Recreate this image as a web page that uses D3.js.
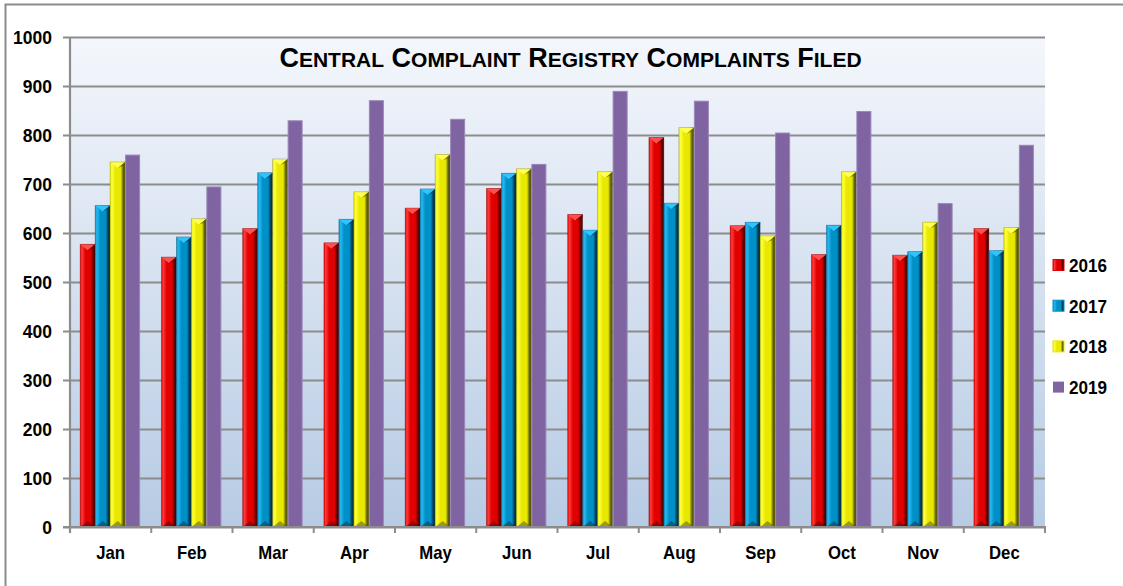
<!DOCTYPE html>
<html><head><meta charset="utf-8">
<script src="https://cdn.jsdelivr.net/npm/d3@7"></script>
<style>
html,body{margin:0;padding:0;background:#fff;}
svg{display:block;}
text{font-family:"Liberation Sans",Arial,sans-serif;font-weight:bold;fill:#000;}
</style></head>
<body>
<svg id="chart" width="1123" height="586"></svg>
<script>
const months = ["Jan","Feb","Mar","Apr","May","Jun","Jul","Aug","Sep","Oct","Nov","Dec"];
const years = ["2016","2017","2018","2019"];
const v2016 = [577,551,609,580,651,691,638,795,615,556,555,609];
const v2017 = [656,592,723,628,690,722,606,661,622,616,562,564];
const v2018 = [745,629,751,684,760,731,725,815,594,725,622,611];
const v2019 = [759,694,829,870,832,740,889,869,804,848,660,779];
const yTicks = [0,100,200,300,400,500,600,700,800,900,1000];
const seriesValues = [v2016,v2017,v2018,v2019];
const colors = {
  "2016": {base:"#e00000", light:"#ff3b3b", dark:"#5a0000", cap:"#ff5050"},
  "2017": {base:"#0090c8", light:"#28b8ef", dark:"#00384f", cap:"#30c4ff"},
  "2018": {base:"#e8e800", light:"#ffff40", dark:"#5c5c00", cap:"#ffff55"},
  "2019": {base:"#8064a2"}
};

const svg = d3.select("#chart");
const m = {left:70, right:1045, top:37, bottom:527};

function condense(sel, ratio){
  sel.each(function(){
    const L = this.getComputedTextLength();
    d3.select(this).attr("textLength", L*ratio).attr("lengthAdjust","spacingAndGlyphs");
  });
}

const defs = svg.append("defs");
const bg = defs.append("linearGradient").attr("id","bg").attr("x1",0).attr("y1",0).attr("x2",0).attr("y2",1);
bg.append("stop").attr("offset","0%").attr("stop-color","#f4f7fc");
bg.append("stop").attr("offset","100%").attr("stop-color","#b7cbe4");

years.slice(0,3).forEach(y => {
  const c = colors[y];
  const g = defs.append("linearGradient").attr("id","g"+y).attr("x1",0).attr("y1",0).attr("x2",1).attr("y2",0);
  g.append("stop").attr("offset","0%").attr("stop-color",c.base);
  g.append("stop").attr("offset","12%").attr("stop-color",c.light);
  g.append("stop").attr("offset","35%").attr("stop-color",c.base);
  g.append("stop").attr("offset","70%").attr("stop-color",c.base);
  g.append("stop").attr("offset","88%").attr("stop-color",c.dark);
  g.append("stop").attr("offset","100%").attr("stop-color",c.dark);
});

// outer border
svg.append("rect").attr("x",5.5).attr("y",4.5).attr("width",1200).attr("height",700)
  .attr("fill","none").attr("stroke","#8c8c8c").attr("stroke-width",2);

const x0 = d3.scaleBand().domain(months).range([m.left, m.right]).padding(0);
const bw = x0.bandwidth();
const groupW = 60;
const x1 = d3.scaleBand().domain(years).range([(bw-groupW)/2 - 0.5, (bw+groupW)/2 - 0.5]).padding(0);
const y = d3.scaleLinear().domain([0,1000]).range([m.bottom, m.top]);

// plot background
svg.append("rect").attr("x",m.left).attr("y",m.top).attr("width",m.right-m.left).attr("height",m.bottom-m.top)
  .attr("fill","url(#bg)");

// gridlines + y axis
const yAxis = d3.axisLeft(y).tickValues(yTicks).tickSize(-(m.right-m.left)).tickFormat(d3.format("d")).tickPadding(18);
const ya = svg.append("g").attr("transform",`translate(${m.left},0)`).call(yAxis);
ya.select(".domain").remove();
ya.selectAll(".tick line").attr("stroke","#8c8c8c").attr("stroke-width",2.2).attr("x1",-7);
ya.selectAll(".tick text").attr("font-size",19).attr("font-family","'Liberation Sans',Arial,sans-serif").attr("font-weight","bold").attr("fill","#000");
condense(ya.selectAll(".tick text"), 0.92);

// title (small caps built from tspans)
const title = svg.append("text").attr("x",570.5).attr("y",67).attr("text-anchor","middle");
const words = ["Central","Complaint","Registry","Complaints","Filed"];
words.forEach((w,i) => {
  title.append("tspan").attr("font-size",27).text((i?" ":"") + w[0].toUpperCase());
  title.append("tspan").attr("font-size",21).text(w.slice(1).toUpperCase());
});

// bars
const data = months.map((mo,i) => ({month:mo, vals: years.map((yr,j)=>({year:yr, value:seriesValues[j][i]}))}));
const groups = svg.append("g").selectAll("g").data(data).join("g")
  .attr("transform", d => `translate(${x0(d.month)},0)`);
const bwid = x1.bandwidth();
groups.each(function(d){
  const g = d3.select(this);
  d.vals.forEach(v => {
    const bx = x1(v.year), by = y(v.value), bh = y(0) - y(v.value);
    if (v.year === "2019") {
      g.append("rect").attr("x",bx+0.5).attr("y",by).attr("width",bwid-1).attr("height",bh)
        .attr("fill",colors["2019"].base).attr("stroke","#9a86b8").attr("stroke-width",1);
    } else {
      const c = colors[v.year];
      g.append("rect").attr("x",bx).attr("y",by).attr("width",bwid).attr("height",bh)
        .attr("fill",`url(#g${v.year})`);
      const cx = bx + bwid/2;
      g.append("path").attr("d",`M${bx},${by}L${bx+bwid},${by}L${cx},${by+6}Z`).attr("fill",c.cap);
      g.append("path").attr("d",`M${cx},${by+6}L${bx+bwid},${by}L${bx+bwid},${by+3}Z`).attr("fill",c.dark).attr("opacity",0.6);
      const bb = y(0);
      g.append("path").attr("d",`M${bx},${bb}L${cx},${bb-6}L${bx+bwid},${bb}Z`).attr("fill",c.dark).attr("opacity",0.55);
      g.append("rect").attr("x",bx).attr("y",by).attr("width",bwid).attr("height",bh)
        .attr("fill","none").attr("stroke",c.dark).attr("stroke-opacity",0.35).attr("stroke-width",0.8);
    }
  });
});

// x axis
const xAxis = d3.axisBottom(x0).tickSize(0).tickPadding(18.5);
const xa = svg.append("g").attr("transform",`translate(0,${m.bottom})`).call(xAxis);
xa.select(".domain").remove();
xa.selectAll(".tick text").attr("font-size",19).attr("font-family","'Liberation Sans',Arial,sans-serif").attr("font-weight","bold").attr("fill","#000");
condense(xa.selectAll(".tick text"), 0.88);
const bounds = months.map(mo => x0(mo)).concat([m.right]);
svg.append("g").selectAll("line").data(bounds).join("line")
  .attr("x1",d=>d).attr("x2",d=>d).attr("y1",m.bottom).attr("y2",m.bottom+6)
  .attr("stroke","#8c8c8c").attr("stroke-width",2);
svg.append("line").attr("x1",m.left-7).attr("x2",m.right+1).attr("y1",m.bottom).attr("y2",m.bottom)
  .attr("stroke","#8c8c8c").attr("stroke-width",2.2);
svg.append("line").attr("x1",m.left).attr("x2",m.left).attr("y1",m.top).attr("y2",m.bottom+6)
  .attr("stroke","#8c8c8c").attr("stroke-width",2.2);

// legend
const leg = svg.append("g").selectAll("g").data(years).join("g")
  .attr("transform",(d,i)=>`translate(1053,${265 + i*40.7})`);
leg.append("rect").attr("x",0).attr("y",-5.5).attr("width",11).attr("height",11)
  .attr("fill",d => d==="2019" ? colors[d].base : `url(#g${d})`)
  .attr("stroke",d => d==="2019" ? "none" : colors[d].base).attr("stroke-width",1);
const lt = leg.append("text").attr("x",16).attr("y",7).attr("font-size",19).text(d=>d);
condense(lt, 0.9);
</script>
</body></html>
